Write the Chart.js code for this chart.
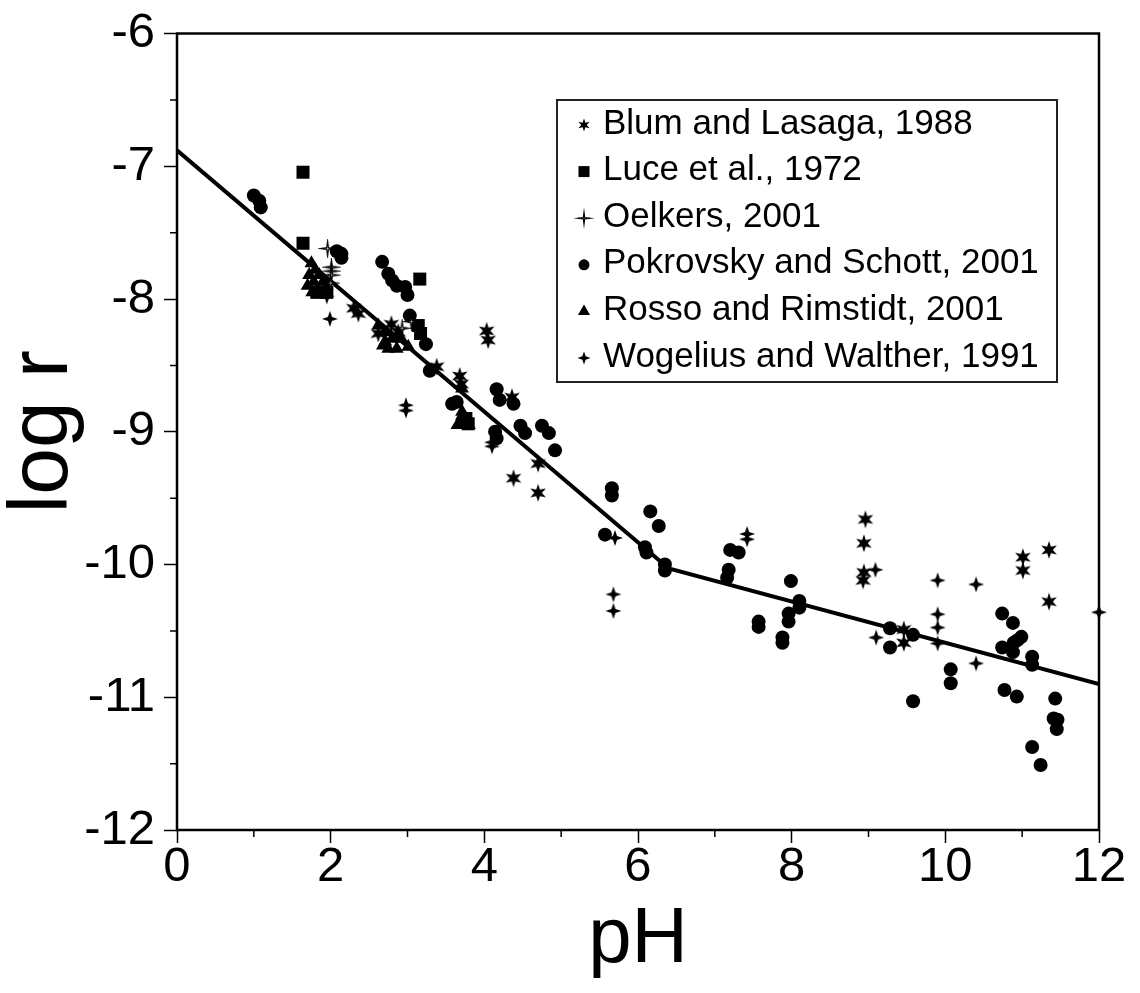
<!DOCTYPE html>
<html>
<head>
<meta charset="utf-8">
<title>log r vs pH</title>
<script src="https://cdn.jsdelivr.net/npm/chart.js@4.4.1/dist/chart.umd.min.js"></script>
<style>
  body { margin: 0; background: #fff; }
</style>
</head>
<body>
<canvas id="rateChart" width="1140" height="993"></canvas>
<script>
// Blum and Lasaga, 1988
const blumPH   = [2.30, 2.36, 2.62, 2.79, 2.88, 3.38, 3.68, 3.70, 4.03, 4.05, 4.36, 4.70, 4.38, 4.70, 8.96, 8.94, 8.94, 8.93, 9.46, 9.46, 11.01, 11.01, 11.35, 11.35];
const blumLogR = [-8.07, -8.11, -8.26, -8.19, -8.25, -8.51, -8.58, -8.64, -8.24, -8.31, -8.74, -9.24, -9.35, -9.46, -9.66, -9.84, -10.06, -10.12, -10.49, -10.59, -9.945, -10.045, -9.89, -10.28];

// Luce et al., 1972
const lucePH   = [1.64, 1.64, 3.16, 1.82, 1.95, 3.14, 3.17, 3.76, 3.79];
const luceLogR = [-7.045, -7.58, -7.85, -7.95, -7.95, -8.20, -8.26, -8.90, -8.94];

// Oelkers, 2001
const oelkersPH   = [1.96, 2.01, 2.01, 2.01, 2.00, 2.93, 3.05];
const oelkersLogR = [-7.62, -7.76, -7.79, -7.82, -7.88, -8.22, -8.17];

// Pokrovsky and Schott, 2001
const pokrovskyPH = [1.00, 1.07, 1.09, 2.08, 2.14, 2.14, 2.67, 2.75, 2.80, 2.86, 2.97, 3.00, 3.03, 3.24, 3.29, 3.58, 3.64,
  4.16, 4.20, 4.38, 4.47, 4.53, 4.75, 4.84, 4.92, 4.14, 4.16, 5.66, 5.66, 5.57, 6.16, 6.27, 6.09, 6.11, 6.35, 6.35,
  7.20, 7.31, 7.18, 7.16, 7.99, 8.10, 8.10, 7.96, 7.96, 7.57, 7.57, 7.88, 7.88, 9.28, 9.28, 9.58, 9.58, 10.07, 10.07,
  10.74, 10.88, 10.74, 10.88, 10.89, 10.99, 10.94, 11.13, 11.13, 10.77, 10.93, 11.43, 11.41, 11.46, 11.45, 11.13, 11.24];
const pokrovskyLogR = [-7.22, -7.26, -7.31, -7.64, -7.66, -7.69, -7.72, -7.81, -7.86, -7.90, -7.91, -7.97, -8.125, -8.34, -8.54, -8.79, -8.775,
  -8.68, -8.76, -8.79, -8.955, -9.01, -8.955, -9.01, -9.14, -9.00, -9.05, -9.425, -9.48, -9.775, -9.60, -9.71, -9.87, -9.91, -10.00, -10.045,
  -9.89, -9.91, -10.04, -10.10, -10.125, -10.275, -10.325, -10.37, -10.43, -10.43, -10.47, -10.55, -10.59, -10.48, -10.625, -10.53, -11.03, -10.79, -10.895,
  -10.37, -10.44, -10.625, -10.66, -10.59, -10.545, -10.57, -10.695, -10.755, -10.945, -10.995, -11.01, -11.16, -11.17, -11.24, -11.375, -11.51];

// Rosso and Rimstidt, 2001
const rossoPH   = [1.75, 1.80, 1.72, 1.85, 1.78, 1.70, 1.90, 1.83, 1.95, 1.76, 2.62, 2.70, 2.71, 2.75, 2.86, 3.01, 2.80, 2.92, 2.68,
  3.71, 3.71, 3.71, 3.72, 3.73, 3.65, 3.80];
const rossoLogR = [-7.73, -7.78, -7.82, -7.82, -7.87, -7.90, -7.87, -7.93, -7.90, -7.95, -8.20, -8.25, -8.32, -8.375, -8.375, -8.36, -8.30, -8.30, -8.35,
  -8.675, -8.85, -8.88, -8.92, -8.95, -8.95, -8.95];

// Wogelius and Walther, 1991
const wogeliusPH   = [1.95, 1.99, 2.98, 2.98, 4.10, 4.10, 5.70, 5.68, 5.68, 7.42, 7.42, 9.09, 9.10, 9.90, 9.90, 9.90, 9.90, 10.40, 10.40, 12.00];
const wogeliusLogR = [-7.98, -8.15, -8.80, -8.84, -9.08, -9.11, -9.80, -10.225, -10.35, -9.77, -9.81, -10.04, -10.55, -10.12, -10.375, -10.475, -10.595, -10.15, -10.745, -10.36];

// fitted rate law
const fitPH   = [0, 6.4, 12];
const fitLogR = [-6.88, -10.03, -10.9];

const legendLabels = ['Blum and Lasaga, 1988', 'Luce et al., 1972', 'Oelkers, 2001',
  'Pokrovsky and Schott, 2001', 'Rosso and Rimstidt, 2001', 'Wogelius and Walther, 1991'];

const FONT = "'Liberation Sans', Arial, Helvetica, sans-serif";
Chart.defaults.font.family = FONT;
Chart.defaults.color = '#000';

function toPoints(xs, ys) {
    return xs.map((x, i) => ({ x: x, y: ys[i] }));
}

function starPath(ctx, x, y, n, outer, inner) {
    ctx.beginPath();
    for (let i = 0; i < 2 * n; i++) {
        const a = -Math.PI / 2 + i * Math.PI / n;
        const r = i % 2 === 0 ? outer : inner;
        ctx.lineTo(x + r * Math.cos(a), y + r * Math.sin(a));
    }
    ctx.closePath();
}

function drawBlum(ctx, x, y, R) {
    starPath(ctx, x, y, 6, R, R * 0.42);
    ctx.fillStyle = '#000';
    ctx.fill();
}
function drawWogelius(ctx, x, y, R) {
    starPath(ctx, x, y, 4, R, R * 0.36);
    ctx.fillStyle = '#000';
    ctx.fill();
}
function drawOelkers(ctx, x, y, R) {
    starPath(ctx, x, y, 4, R, R * 0.16);
    ctx.fillStyle = '#fff';
    ctx.fill();
    ctx.lineWidth = 1.2;
    ctx.strokeStyle = '#000';
    ctx.stroke();
}
function drawSquare(ctx, x, y, R) {
    ctx.fillStyle = '#000';
    ctx.fillRect(x - R, y - R, 2 * R, 2 * R);
}
function drawCircle(ctx, x, y, R) {
    ctx.beginPath();
    ctx.arc(x, y, R, 0, Math.PI * 2);
    ctx.fillStyle = '#000';
    ctx.fill();
}
function drawTriangle(ctx, x, y, R) {
    ctx.beginPath();
    ctx.moveTo(x, y - R);
    ctx.lineTo(x + R * 0.866, y + R * 0.5);
    ctx.lineTo(x - R * 0.866, y + R * 0.5);
    ctx.closePath();
    ctx.fillStyle = '#000';
    ctx.fill();
}

function markerCanvas(drawFn, R) {
    const c = document.createElement('canvas');
    const s = Math.ceil(R * 2 + 4);
    c.width = s;
    c.height = s;
    drawFn(c.getContext('2d'), s / 2, s / 2, R);
    return c;
}

// short ticks between the labelled ones
const minorTicks = {
    id: 'minorTicks',
    afterDraw(chart) {
        const { ctx, chartArea, scales } = chart;
        ctx.save();
        ctx.strokeStyle = '#000';
        ctx.lineWidth = 1.5;
        ctx.beginPath();
        for (let v = 1; v < 12; v += 2) {
            const px = scales.x.getPixelForValue(v);
            ctx.moveTo(px, chartArea.bottom);
            ctx.lineTo(px, chartArea.bottom + 7);
        }
        for (let v = -11.5; v < -6; v += 1) {
            const py = scales.y.getPixelForValue(v);
            ctx.moveTo(chartArea.left - 7, py);
            ctx.lineTo(chartArea.left, py);
        }
        ctx.stroke();
        ctx.restore();
    }
};

const frame = {
    id: 'frame',
    afterDraw(chart) {
        const { ctx, chartArea } = chart;
        ctx.save();
        ctx.strokeStyle = '#000';
        ctx.lineWidth = 2.5;
        ctx.strokeRect(chartArea.left, chartArea.top, chartArea.right - chartArea.left, chartArea.bottom - chartArea.top);
        ctx.restore();
    }
};

const legendMarkers = [
    [drawBlum, 6.5], [drawSquare, 5.5], [drawOelkers, 6], [drawCircle, 5.5], [drawTriangle, 7], [drawWogelius, 6.5]
];

const boxLegend = {
    id: 'boxLegend',
    afterDraw(chart) {
        const ctx = chart.ctx;
        const left = 557, top = 100, w = 500, h = 282;
        ctx.save();
        ctx.fillStyle = '#fff';
        ctx.fillRect(left, top, w, h);
        ctx.strokeStyle = '#222';
        ctx.lineWidth = 2;
        ctx.strokeRect(left, top, w, h);
        ctx.font = '35px ' + FONT;
        ctx.textBaseline = 'middle';
        ctx.textAlign = 'left';
        legendLabels.forEach((label, i) => {
            const y = top + 24 + i * 46.6;
            const [fn, r] = legendMarkers[i];
            fn(ctx, left + 27, y + 1, r);
            ctx.fillStyle = '#000';
            ctx.fillText(label, left + 46, y);
        });
        ctx.restore();
    }
};

function scatterSet(label, xs, ys, style, radius) {
    return {
        label: label,
        data: toPoints(xs, ys),
        pointStyle: style,
        pointRadius: radius,
        pointBackgroundColor: '#000',
        pointBorderColor: '#000',
        pointBorderWidth: 0,
        clip: false
    };
}

const datasets = [
    scatterSet(legendLabels[2], oelkersPH, oelkersLogR, markerCanvas(drawOelkers, 7.5), 7),
    scatterSet(legendLabels[0], blumPH, blumLogR, markerCanvas(drawBlum, 9), 8),
    scatterSet(legendLabels[5], wogeliusPH, wogeliusLogR, markerCanvas(drawWogelius, 8), 7),
    scatterSet(legendLabels[1], lucePH, luceLogR, 'rect', 9.2),
    scatterSet(legendLabels[4], rossoPH, rossoLogR, 'triangle', 8),
    scatterSet(legendLabels[3], pokrovskyPH, pokrovskyLogR, 'circle', 7),
    {
        label: 'fit',
        data: toPoints(fitPH, fitLogR),
        showLine: true,
        borderColor: '#000',
        borderWidth: 4,
        pointRadius: 0,
        fill: false
    }
];

new Chart(document.getElementById('rateChart'), {
    type: 'scatter',
    data: { datasets: datasets },
    options: {
        responsive: false,
        animation: false,
        devicePixelRatio: 1,
        layout: { padding: { top: 28, right: 41, left: 0, bottom: 0 } },
        plugins: {
            legend: { display: false },
            tooltip: { enabled: false }
        },
        scales: {
            x: {
                type: 'linear',
                min: 0,
                max: 12,
                afterFit: s => { s.height = 163; },
                ticks: {
                    stepSize: 1,
                    autoSkip: false,
                    maxRotation: 0,
                    padding: 0,
                    font: { size: 49, lineHeight: 1 },
                    callback: v => (v % 2 === 0 ? String(v) : '')
                },
                grid: {
                    drawOnChartArea: false,
                    tickLength: 13,
                    tickWidth: 1.5,
                    tickColor: c => (c.tick && c.tick.value % 2 !== 0 ? 'rgba(0,0,0,0)' : '#000')
                },
                border: { display: false },
                title: {
                    display: true,
                    text: 'pH',
                    font: { size: 78, lineHeight: 1 },
                    padding: { top: 0, bottom: 14 }
                }
            },
            y: {
                type: 'linear',
                min: -12,
                max: -6,
                afterFit: s => { s.width = 177; },
                ticks: {
                    stepSize: 0.5,
                    autoSkip: false,
                    padding: 9,
                    font: { size: 49, lineHeight: 1 },
                    callback: v => (Number.isInteger(v) ? String(v) : '')
                },
                grid: {
                    drawOnChartArea: false,
                    tickLength: 13,
                    tickWidth: 1.5,
                    tickColor: c => (c.tick && !Number.isInteger(c.tick.value) ? 'rgba(0,0,0,0)' : '#000')
                },
                border: { display: false },
                title: {
                    display: true,
                    text: 'log r',
                    font: { size: 84, lineHeight: 1 },
                    padding: { top: 2, bottom: 0 }
                }
            }
        }
    },
    plugins: [minorTicks, frame, boxLegend]
});
</script>
</body>
</html>
